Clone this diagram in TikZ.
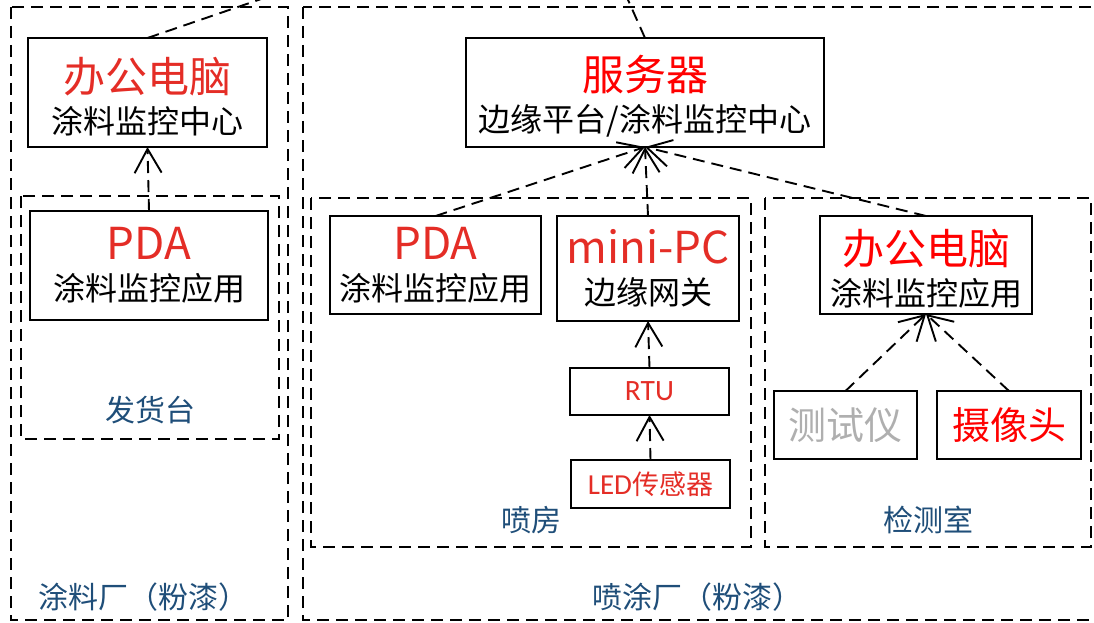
\documentclass[tikz,border=0pt]{standalone}
\usepackage{fontspec}
\setmainfont{Carlito}
\newfontfamily\cjk{Noto Sans CJK SC}
\usetikzlibrary{arrows.meta}
\definecolor{devred}{RGB}{228,45,38}
\definecolor{purered}{RGB}{255,0,0}
\definecolor{areablue}{RGB}{31,78,121}
\definecolor{toolgray}{RGB}{175,175,175}
\newcommand{\namefont}{\fontsize{42}{41}\selectfont\cjk\rule{0pt}{43pt}}
\newcommand{\latinfont}{\fontsize{44}{41}\selectfont}
\newcommand{\rolefont}{\fontsize{32}{41}\selectfont\cjk}

\begin{document}
\begin{tikzpicture}
	[
	x=1pt, y=-1pt,
	every node/.style={inner sep=0pt, outer sep=0pt},
	device/.style={draw, line width=1.9pt, align=center, font=\rolefont},
	area/.style={draw, line width=1.9pt, dash pattern=on 12pt off 7pt},
	arealabel/.style={text=areablue, font=\fontsize{30}{36}\selectfont\cjk},
	link/.style={line width=1.9pt, dash pattern=on 12pt off 7pt},
	uplink/.style={link, -{Straight Barb[length=24pt, width=27pt]}}
	]
	\useasboundingbox (0,0) rectangle (1094,623);
	% areas
	\draw[area] (11,7) rectangle (288,620);
	\draw[area] (21,196) rectangle (279,439);
	\draw[area] (303,7) rectangle (1110,620);
	\draw[area] (311,198) rectangle (751,547);
	\draw[area] (765,198) rectangle (1091,547);
	\node[arealabel] (shipping) at (150,410) {发货台};
	\node[arealabel] (coatfactory) at (143,597) {涂料厂（粉漆）};
	\node[arealabel] (booth) at (531,520) {喷房};
	\node[arealabel] (lab) at (928,520) {检测室};
	\node[arealabel] (sprayfactory) at (697,597) {喷涂厂（粉漆）};
	% devices
	\node[device, minimum width=239pt, minimum height=109pt] (pcA) at (147.5,92.5)
		{{\color{devred}\namefont 办公电脑}\\ 涂料监控中心};
	\node[device, minimum width=238pt, minimum height=109pt] (pdaA) at (149,265.5)
		{{\color{devred}\latinfont PDA}\\ 涂料监控应用};
	\node[device, minimum width=358pt, minimum height=109pt] (server) at (645,92.5)
		{{\color{purered}\namefont 服务器}\\ 边缘平台/涂料监控中心};
	\node[device, minimum width=211pt, minimum height=98pt] (pdaB) at (435.5,265)
		{{\color{devred}\latinfont PDA}\\ 涂料监控应用};
	\node[device, minimum width=182pt, minimum height=105pt] (mini) at (648,268.5)
		{{\color{devred}\latinfont mini-PC}\\ 边缘网关};
	\node[device, minimum width=159pt, minimum height=47pt, font=\fontsize{29.5}{36}\selectfont, text=devred] (rtu) at (649.5,391.5) {RTU};
	\node[device, minimum width=159pt, minimum height=48pt, font=\fontsize{29}{36}\selectfont, text=devred] (led) at (650.5,484) {LED{\cjk\fontsize{27}{36}\selectfont 传感器}};
	\node[device, minimum width=212pt, minimum height=98pt] (pcC) at (926,265)
		{{\color{purered}\namefont 办公电脑}\\ 涂料监控应用};
	\node[device, minimum width=143pt, minimum height=68pt, font=\fontsize{38}{44}\selectfont\cjk, text=toolgray] (tester) at (845.5,425) {测试仪};
	\node[device, minimum width=144pt, minimum height=68pt, font=\fontsize{38}{44}\selectfont\cjk, text=purered] (camera) at (1009,425) {摄像头};
	% links
	\coordinate (cloud) at (579,-110);
	\draw[link] (pcA.north) -- (cloud);
	\draw[link] (server.north) -- (cloud);
	\draw[uplink] (pdaA.north) -- (pcA.south);
	\draw[uplink] (pdaB.north) -- (server.south);
	\draw[uplink] (mini.north) -- (server.south);
	\draw[uplink] (pcC.north) -- (server.south);
	\draw[uplink] (rtu.north) -- (mini.south);
	\draw[uplink] (led.north) -- (rtu.south);
	\draw[uplink] (tester.north) -- (pcC.south);
	\draw[uplink] (camera.north) -- (pcC.south);
\end{tikzpicture}
\end{document}
